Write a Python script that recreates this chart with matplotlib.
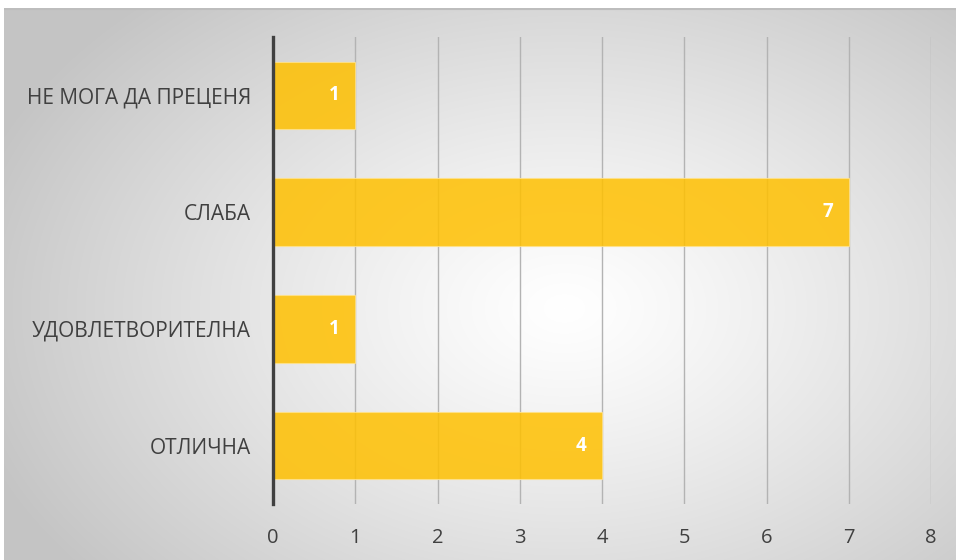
import numpy as np
import matplotlib
matplotlib.use("Agg")
from matplotlib import pyplot as plt

#-----------------------------------------------------------------------------------#
## data
categories = ["НЕ МОГА ДА ПРЕЦЕНЯ", "СЛАБА", "УДОВЛЕТВОРИТЕЛНА", "ОТЛИЧНА"]
values = [1, 7, 1, 4]
x_ticks = [0, 1, 2, 3, 4, 5, 6, 7, 8]

plt.rcParams['font.family'] = ['Open Sans', 'DejaVu Sans']

W, H = 956, 560
fig = plt.figure(figsize=(W / 100, H / 100), dpi=100, facecolor="white")

#-----------------------------------------------------------------------------------#
## radial gradient background
bg = fig.add_axes([4 / W, 0, (W - 4) / W, (H - 8) / H])
bg.set_axis_off()
yy, xx = np.mgrid[0:552, 0:952]
cx, cy = 560, 300
d = np.sqrt(((xx - cx) / 620.0) ** 2 + ((yy - cy) / 420.0) ** 2)
d = np.clip(d, 0, 1)
shade = 1.0 - 0.23 * d ** 1.2
rgb = np.dstack([shade, shade, shade])
bg.imshow(rgb, aspect="auto", extent=[0, 1, 0, 1], origin="upper",
          interpolation="bilinear")
bg.set_xlim(0, 1)
bg.set_ylim(0, 1)
bg.plot([0, 1], [0.999, 0.999], color="#bdbdbd", lw=1.5)

#-----------------------------------------------------------------------------------#
## bars
ax = fig.add_axes([273 / W, 56 / H, 658 / W, 467 / H])
ax.patch.set_alpha(0)
pos = np.arange(len(categories))
bars = ax.barh(pos, values, height=0.58, color="#FFC000", alpha=0.85,
               edgecolor="#ffe28a", linewidth=0.8, zorder=3)
ax.set_ylim(len(categories) - 0.5, -0.5)
ax.set_xlim(0, 8)
ax.set_xticks(x_ticks)
ax.set_yticks(pos)
ax.set_yticklabels(categories, fontsize=15)
ax.grid(axis="x", color="#b3b3b3", lw=1, zorder=0)
ax.tick_params(axis="both", length=0, colors="#404040")
ax.tick_params(axis="x", pad=17, labelsize=14.5)
ax.tick_params(axis="y", pad=16)
for s in ["top", "right", "bottom"]:
    ax.spines[s].set_visible(False)
ax.spines["left"].set_color("#404040")
ax.spines["left"].set_linewidth(2.4)
ax.spines["left"].set_zorder(4)

for b, v in zip(bars, values):
    ax.annotate(str(v), (v, b.get_y() + b.get_height() / 2),
                xytext=(-11, 0), textcoords="offset points",
                ha="right", va="center", color="white",
                fontsize=13.5, fontweight="bold", zorder=5)

fig.savefig("out.png", dpi=100, facecolor="white")
